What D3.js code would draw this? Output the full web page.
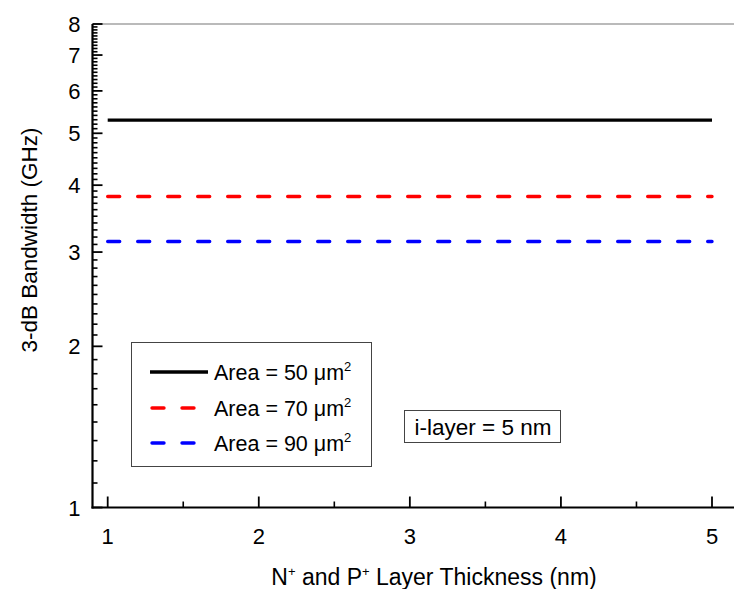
<!DOCTYPE html>
<html>
<head>
  <meta charset="utf-8">
  <title>3-dB bandwidth vs layer thickness</title>
  <script src="https://cdn.jsdelivr.net/npm/d3@7/dist/d3.min.js"></script>
  <style>
    body { margin: 0; background: #fff; }
    text { font-family: "Liberation Sans", Arial, sans-serif; fill: #000; }
  </style>
</head>
<body>
<svg id="chart" width="734" height="589"></svg>

<script>
  // data
  var thickness = [1, 2, 3, 4, 5];  // nm
  var seriesNames = ['Area = 50 μm', 'Area = 70 μm', 'Area = 90 μm'];
  var bw50 = [5.29, 5.29, 5.29, 5.29, 5.29];  // GHz
  var bw70 = [3.81, 3.81, 3.81, 3.81, 3.81];
  var bw90 = [3.14, 3.14, 3.14, 3.14, 3.14];
  var yTickLabels = [1, 2, 3, 4, 5, 6, 7, 8];
  var xTickLabels = [1, 2, 3, 4, 5];

  var svg = d3.select('#chart'),
    width = +svg.attr('width'),
    height = +svg.attr('height');

  var plotLeft = 92.5, plotTop = 24, plotBottom = 507.5;

  var x = d3.scaleLinear().domain([1, 5]).range([107.7, 712]);
  var y = d3.scaleLog().domain([1, 8]).range([plotBottom, plotTop]);

  //minor ticks: 1..2 split in 9, the rest every 0.1
  var yMinor = [];
  for (var k = 1; k < 9; k++) yMinor.push(1 + k / 9);
  for (var v = 2; v < 8; v++) for (var j = 1; j < 10; j++) yMinor.push(v + j / 10);
  var xMinor = [1.5, 2.5, 3.5, 4.5];

  // frame: gray top line, black left and bottom
  svg.append('line').attr('x1', plotLeft).attr('x2', width).attr('y1', plotTop).attr('y2', plotTop)
    .attr('stroke', '#777').attr('stroke-width', 1.2);

  // y axis, ticks pointing inward
  var yAxis = svg.append('g').attr('transform', 'translate(' + plotLeft + ',0)');
  yAxis.selectAll('.minor').data(yMinor).enter().append('line')
    .attr('x1', 0).attr('x2', 5).attr('y1', d => y(d)).attr('y2', d => y(d))
    .attr('stroke', '#000').attr('stroke-width', 1.6);
  yAxis.selectAll('.major').data(yTickLabels).enter().append('line')
    .attr('x1', 0).attr('x2', 10).attr('y1', d => y(d)).attr('y2', d => y(d))
    .attr('stroke', '#000').attr('stroke-width', 1.8);
  yAxis.selectAll('.lab').data(yTickLabels).enter().append('text')
    .attr('x', -12).attr('y', d => y(d) + 8)
    .attr('text-anchor', 'end').style('font-size', '22px').text(d => d);
  yAxis.append('line').attr('x1', 0).attr('x2', 0).attr('y1', plotTop).attr('y2', plotBottom + 1)
    .attr('stroke', '#000').attr('stroke-width', 2.2);

  // x axis
  var xAxis = svg.append('g').attr('transform', 'translate(0,' + plotBottom + ')');
  xAxis.selectAll('.minor').data(xMinor).enter().append('line')
    .attr('x1', d => x(d)).attr('x2', d => x(d)).attr('y1', 0).attr('y2', -6)
    .attr('stroke', '#000').attr('stroke-width', 1.6);
  xAxis.selectAll('.major').data(xTickLabels).enter().append('line')
    .attr('x1', d => x(d)).attr('x2', d => x(d)).attr('y1', 0).attr('y2', -11)
    .attr('stroke', '#000').attr('stroke-width', 1.8);
  xAxis.selectAll('.lab').data(xTickLabels).enter().append('text')
    .attr('x', d => x(d)).attr('y', 36)
    .attr('text-anchor', 'middle').style('font-size', '22px').text(d => d);
  xAxis.append('line').attr('x1', plotLeft - 1).attr('x2', width).attr('y1', 0).attr('y2', 0)
    .attr('stroke', '#000').attr('stroke-width', 2.2);

  // axis titles
  var xt = svg.append('text')
    .attr('x', 434).attr('y', 585)
    .attr('text-anchor', 'middle').style('font-size', '23px');
  xt.append('tspan').text('N');
  xt.append('tspan').attr('dy', -9).style('font-size', '13px').text('+');
  xt.append('tspan').attr('dy', 9).text(' and P');
  xt.append('tspan').attr('dy', -9).style('font-size', '13px').text('+');
  xt.append('tspan').attr('dy', 9).text(' Layer Thickness (nm)');

  svg.append('text')
    .attr('transform', 'translate(37,240) rotate(-90)')
    .attr('text-anchor', 'middle').style('font-size', '22.5px')
    .text('3-dB Bandwidth (GHz)');

  // series
  var series = [
    { name: seriesNames[0], values: bw50, color: '#000', dash: null },
    { name: seriesNames[1], values: bw70, color: '#ff0000', dash: '12,18' },
    { name: seriesNames[2], values: bw90, color: '#0000ff', dash: '12,18' }
  ];

  var line = d3.line().x((d, i) => x(thickness[i])).y(d => y(d));

  svg.selectAll('.series').data(series).enter().append('path')
    .attr('d', d => line(d.values))
    .attr('fill', 'none')
    .attr('stroke', d => d.color)
    .attr('stroke-width', 3.4)
    .attr('stroke-linecap', d => d.dash ? 'round' : 'butt')
    .attr('stroke-dasharray', d => d.dash);

  // legend
  var lg = svg.append('g');
  lg.append('rect').attr('x', 131.5).attr('y', 342.5).attr('width', 240).attr('height', 124)
    .attr('fill', '#fff').attr('stroke', '#444').attr('stroke-width', 1);
  var rows = [372, 408, 443];
  series.forEach((s, i) => {
    lg.append('line').attr('x1', s.dash ? 152 : 150).attr('x2', 208)
      .attr('y1', rows[i]).attr('y2', rows[i])
      .attr('stroke', s.color).attr('stroke-width', 3.4)
      .attr('stroke-linecap', s.dash ? 'round' : 'butt')
      .attr('stroke-dasharray', s.dash ? '12,18' : null);
    var t = lg.append('text')
      .attr('x', 214).attr('y', rows[i] + 8)
      .style('font-size', '21.5px');
    t.append('tspan').text(s.name);
    t.append('tspan').attr('dy', -9).style('font-size', '13px').text('2');
  });

  // annotation
  svg.append('rect').attr('x', 404.5).attr('y', 410.5).attr('width', 156).attr('height', 32)
    .attr('fill', '#fff').attr('stroke', '#444').attr('stroke-width', 1);
  svg.append('text')
    .attr('x', 483).attr('y', 434.5)
    .attr('text-anchor', 'middle').style('font-size', '22.5px')
    .text('i-layer = 5 nm');
</script>
</body>
</html>
